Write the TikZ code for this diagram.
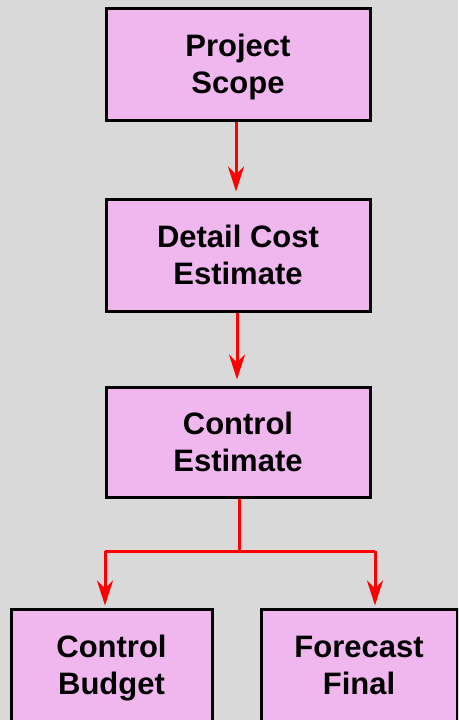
\documentclass[tikz,border=0pt]{standalone}
\usepackage{fontspec}
\setmainfont{Liberation Sans}
\usetikzlibrary{arrows.meta}
\definecolor{bg}{HTML}{D9D9D9}
\definecolor{boxpink}{HTML}{F0B6EE}
\tikzset{
  box/.style={draw=black, line width=3pt, fill=boxpink, inner sep=0pt,
    minimum width=264pt, minimum height=112pt},
  boxtext/.style={inner sep=0pt, align=center, yshift=-4pt,
    font=\fontsize{31}{37}\selectfont\bfseries},
  link/.style={draw=red, line width=3pt,
    -{Stealth[length=25pt, width=16pt, inset=8pt]}},
  plain/.style={draw=red, line width=3pt}
}
\begin{document}
\begin{tikzpicture}[x=1pt,y=-1pt]
\path[use as bounding box, fill=bg] (0,0) rectangle (458,720);
\begin{scope}
\clip (0,0) rectangle (458,720);
\node[box] (scope) at (238,64) {};
\node[box] (detail) at (238,255) {};
\node[box, minimum height=110pt] (control) at (238,442) {};
\node[box, minimum width=201pt] (budget) at (111.5,665) {};
\node[box, minimum width=196pt] (final) at (359,665) {};
\node[boxtext] (scopeT) at (scope.center) {\strut Project\\Scope\strut};
\node[boxtext] (detailT) at (detail.center) {\strut Detail Cost\\Estimate\strut};
\node[boxtext] (controlT) at (control.center) {\strut Control\\Estimate\strut};
\node[boxtext] (budgetT) at (budget.center) {\strut Control\\Budget\strut};
\node[boxtext] (finalT) at (final.center) {\strut Forecast\\Final\strut};
\coordinate (split) at (239,551);
\coordinate (splitL) at (105,551);
\coordinate (splitR) at (375,551);
\draw[link] (scope.south -| 236,0) -- ([yshift=6pt]detail.north -| 236,0);
\draw[link] (detail.south -| 237,0) -- ([yshift=6pt]control.north -| 237,0);
\draw[plain] (control.south -| split) -- (split);
\draw[plain] (splitL) -- (splitR);
\draw[link] (splitL) -- ([yshift=2pt]budget.north -| splitL);
\draw[link] (splitR) -- ([yshift=2pt]final.north -| splitR);
\end{scope}
\end{tikzpicture}
\end{document}
